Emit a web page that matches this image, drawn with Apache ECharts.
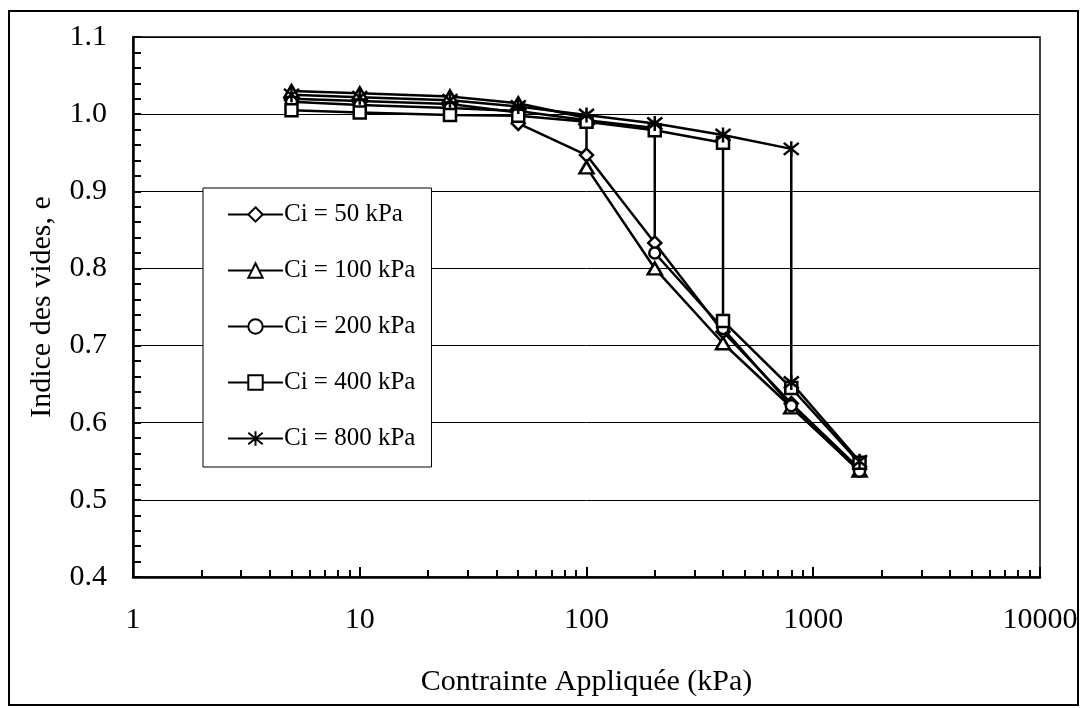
<!DOCTYPE html>
<html>
<head>
<meta charset="utf-8">
<title>Indice des vides</title>
<script src="https://cdn.jsdelivr.net/npm/echarts@6.0.0/dist/echarts.min.js"></script>
<style>
	html, body { margin: 0; padding: 0; background: #fff; }
	#main { width: 1084px; height: 708px; }
</style>
</head>
<body>
<div id="main"></div>
<script>
// données
var seriesNames = ['Ci = 50 kPa', 'Ci = 100 kPa', 'Ci = 200 kPa', 'Ci = 400 kPa', 'Ci = 800 kPa'];

var stress50 = [5, 10, 25, 50, 50, 100, 200, 400, 800, 1600];
var void50 = [1.020, 1.017, 1.013, 1.002, 0.988, 0.947, 0.833, 0.718, 0.625, 0.540];

var stress100 = [5, 10, 25, 50, 100, 100, 200, 400, 800, 1600];
var void100 = [1.030, 1.027, 1.023, 1.014, 0.995, 0.931, 0.800, 0.703, 0.620, 0.538];

var stress200 = [5, 10, 25, 50, 100, 200, 200, 400, 800, 1600];
var void200 = [1.016, 1.012, 1.008, 1.004, 0.992, 0.982, 0.820, 0.722, 0.622, 0.537];

var stress400 = [5, 10, 25, 50, 100, 200, 400, 400, 800, 1600];
var void400 = [1.005, 1.002, 0.999, 0.998, 0.990, 0.979, 0.963, 0.732, 0.645, 0.548];

var stress800 = [5, 10, 25, 50, 100, 200, 400, 800, 800, 1600];
var void800 = [1.025, 1.022, 1.018, 1.010, 0.999, 0.988, 0.973, 0.955, 0.652, 0.550];

var xMajorTicks = [1, 10, 100, 1000, 10000];
var xMinorTicks = [2, 3, 4, 5, 6, 7, 8, 9, 20, 30, 40, 50, 60, 70, 80, 90,
	200, 300, 400, 500, 600, 700, 800, 900, 2000, 3000, 4000, 5000, 6000, 7000, 8000, 9000];

var starPath = 'path://M0,1L10,9M10,1L0,9M5,0L5,10';
var symbols = ['diamond', 'triangle', 'circle', 'rect', starPath];
var symbolSizes = [13, [14, 12], 11, 12, 15];

function pairs(xs, ys) {
	var out = [];
	for (var i = 0; i < xs.length; i++) {
		out.push([xs[i], ys[i]]);
	}
	return out;
}

var allData = [
	pairs(stress50, void50),
	pairs(stress100, void100),
	pairs(stress200, void200),
	pairs(stress400, void400),
	pairs(stress800, void800)
];

var font = 'Liberation Serif, Times New Roman, serif';

var myChart = echarts.init(document.getElementById('main'), null, { renderer: 'canvas' });

var series = [];
for (var k = 0; k < seriesNames.length; k++) {
	series.push({
		name: seriesNames[k],
		type: 'line',
		xAxisIndex: 0,
		yAxisIndex: 0,
		data: allData[k],
		symbol: symbols[k],
		symbolSize: symbolSizes[k],
		showAllSymbol: true,
		lineStyle: { color: '#000', width: 2.5 },
		itemStyle: { color: '#fff', borderColor: '#000', borderWidth: 2.5 },
		emphasis: { disabled: true },
		z: 3
	});
}

var option = {
	animation: false,
	backgroundColor: '#fff',
	textStyle: { fontFamily: font, color: '#000' },
	graphic: [{
		type: 'rect',
		shape: { x: 9, y: 11, width: 1069, height: 694 },
		style: { fill: 'none', stroke: '#000', lineWidth: 2 },
		silent: true,
		z: -1
	}],
	grid: {
		left: 133,
		right: 44,
		top: 37,
		bottom: 131,
		show: true,
		borderColor: '#000',
		borderWidth: 1.5,
		backgroundColor: '#fff'
	},
	legend: {
		orient: 'vertical',
		left: 203,
		top: 188,
		data: seriesNames,
		itemWidth: 55,
		itemHeight: 18,
		itemGap: 31,
		padding: [14, 16, 16, 24],
		backgroundColor: '#fff',
		borderColor: '#000',
		borderWidth: 1,
		textStyle: { fontFamily: font, fontSize: 25, color: '#000', lineHeight: 25, padding: [0, 0, 0, -4] },
		selectedMode: false
	},
	xAxis: [{
		type: 'log',
		logBase: 10,
		min: 1,
		max: 10000,
		name: 'Contrainte Appliquée (kPa)',
		nameLocation: 'middle',
		nameGap: 90,
		nameTextStyle: { fontFamily: font, fontSize: 30, color: '#000' },
		axisLine: { show: true, onZero: false, lineStyle: { color: '#000', width: 2.5 } },
		axisTick: { show: true, inside: true, length: 10, customValues: xMajorTicks, lineStyle: { color: '#000', width: 2 } },
		axisLabel: {
			show: true,
			margin: 28,
			customValues: xMajorTicks,
			fontFamily: font,
			fontSize: 30,
			color: '#000',
			formatter: function (v) { return String(Math.round(v)); }
		},
		splitLine: { show: false }
	}, {
		type: 'log',
		logBase: 10,
		min: 1,
		max: 10000,
		position: 'bottom',
		axisLine: { show: false },
		axisTick: { show: true, inside: true, length: 7, customValues: xMinorTicks, lineStyle: { color: '#000', width: 2 } },
		axisLabel: { show: false },
		splitLine: { show: false }
	}],
	yAxis: {
		type: 'value',
		min: 0.4,
		max: 1.1,
		interval: 0.1,
		name: 'Indice des vides, e',
		nameLocation: 'middle',
		nameGap: 76,
		nameTextStyle: { fontFamily: font, fontSize: 30, color: '#000' },
		axisLine: { show: true, onZero: false, lineStyle: { color: '#000', width: 2.5 } },
		axisTick: { show: true, inside: true, length: 8, lineStyle: { color: '#000', width: 2 } },
		minorTick: { show: true, splitNumber: 5, length: 8, lineStyle: { color: '#000', width: 2 } },
		axisLabel: {
			margin: 26,
			fontFamily: font,
			fontSize: 30,
			color: '#000',
			formatter: function (v) { return v.toFixed(1); }
		},
		splitLine: { show: true, lineStyle: { color: '#000', width: 1 } }
	},
	series: series
};

myChart.setOption(option);
</script>
</body>
</html>
